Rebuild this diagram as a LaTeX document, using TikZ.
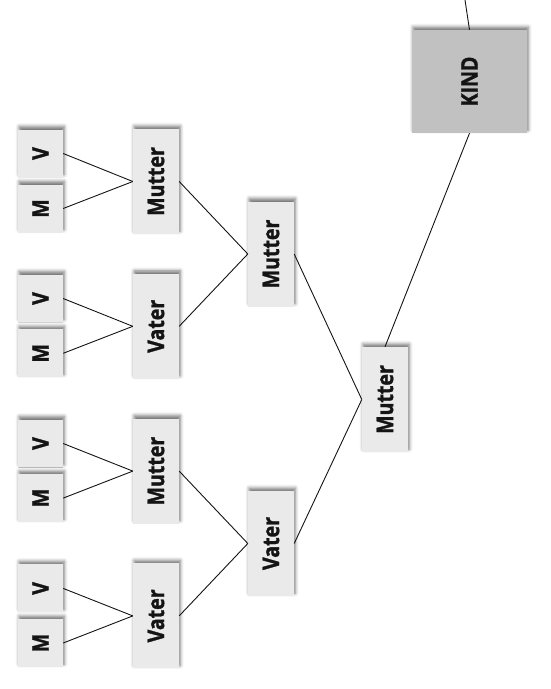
\documentclass[tikz,border=0pt]{standalone}
\usepackage{fontspec}
\newfontfamily\boxfont[FakeStretch=0.85, BoldFeatures={FakeBold=1.3}]{Open Sans}
\usetikzlibrary{shadows.blur}
\definecolor{boxlight}{RGB}{234,234,234}
\definecolor{boxdark}{RGB}{193,193,193}
\definecolor{ink}{RGB}{20,20,20}
\newcommand{\rt}[1]{\rotatebox{90}{#1}}
\begin{document}
\begin{tikzpicture}[x=1pt,y=-1pt,
  box/.style={fill=boxlight, inner sep=0pt, text=ink,
    font=\boxfont\bfseries\fontsize{23}{23}\selectfont,
    blur shadow={shadow xshift=1.2pt, shadow yshift=3pt, shadow blur radius=3.5pt, shadow opacity=55}},
  smallbox/.style={box, minimum width=45pt, minimum height=48pt},
  midbox/.style={box, minimum width=46pt, minimum height=105pt},
  kindbox/.style={box, fill=boxdark, minimum width=115pt, minimum height=103pt},
  link/.style={draw=ink, line width=0.9pt}]
\useasboundingbox (0,0) rectangle (550,689);
% level 0
\node[smallbox] (v1) at (40.5,153.5) {\rt{V}};
\node[smallbox] (m1) at (40.5,208.5) {\rt{M}};
\node[smallbox] (v2) at (40.5,298.5) {\rt{V}};
\node[smallbox] (m2) at (40.5,353.3) {\rt{M}};
\node[smallbox] (v3) at (40.5,443.5) {\rt{V}};
\node[smallbox] (m3) at (40.5,498.1) {\rt{M}};
\node[smallbox] (v4) at (40.5,588.4) {\rt{V}};
\node[smallbox] (m4) at (40.5,643.0) {\rt{M}};
% level 1
\node[midbox] (a1) at (156,181.5) {\rt{Mutter}};
\node[midbox] (a2) at (156,326.3) {\rt{Vater}};
\node[midbox] (a3) at (156,471.1) {\rt{Mutter}};
\node[midbox] (a4) at (156,615.9) {\rt{Vater}};
% level 2
\node[midbox] (b1) at (271,254) {\rt{Mutter}};
\node[midbox] (b2) at (271,543.5) {\rt{Vater}};
% level 3
\node[midbox] (c1) at (385,399.5) {\rt{Mutter}};
% child
\node[kindbox] (kind) at (469.5,81.5) {\rt{KIND}};
\coordinate (top) at (465,0);
% links
\foreach \i in {1,2,3,4}{
  \draw[link] (v\i.east) -- (a\i.west);
  \draw[link] (m\i.east) -- (a\i.west);
}
\draw[link] (a1.east) -- (b1.west);
\draw[link] (a2.east) -- (b1.west);
\draw[link] (a3.east) -- (b2.west);
\draw[link] (a4.east) -- (b2.west);
\draw[link] (b1.east) -- (c1.west);
\draw[link] (b2.east) -- (c1.west);
\draw[link] (c1.north) -- (kind.south);
\draw[link] (kind.north) -- (top);
\end{tikzpicture}
\end{document}
